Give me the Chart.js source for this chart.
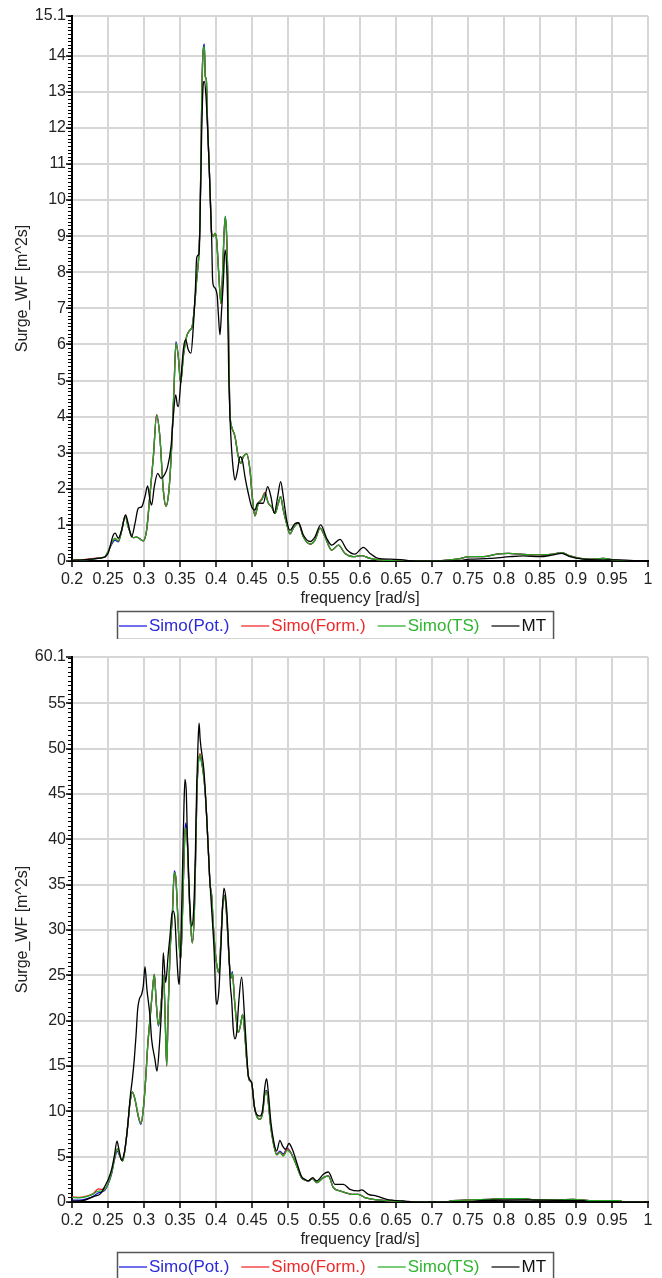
<!DOCTYPE html>
<html>
<head>
<meta charset="utf-8">
<script src="https://cdn.jsdelivr.net/npm/chart.js@4.4.1/dist/chart.umd.min.js"></script>
<style>
  body { margin: 0; background: #fff; width: 662px; height: 1278px; overflow: hidden; position: relative; }
  canvas { position: absolute; left: 0; }
</style>
</head>
<body>
<canvas id="topChart" width="662" height="639" style="top:0"></canvas>
<canvas id="bottomChart" width="662" height="639" style="top:641px"></canvas>
<script>
// axis ticks
var freqTicks = [0.2, 0.25, 0.3, 0.35, 0.4, 0.45, 0.5, 0.55, 0.6, 0.65, 0.7, 0.75, 0.8, 0.85, 0.9, 0.95, 1];
var topYTicks = [0, 1, 2, 3, 4, 5, 6, 7, 8, 9, 10, 11, 12, 13, 14, 15.1];
var bottomYTicks = [0, 5, 10, 15, 20, 25, 30, 35, 40, 45, 50, 55, 60.1];

var seriesNames = ['Simo(Pot.)', 'Simo(Form.)', 'Simo(TS)', 'MT'];
var seriesColors = ['#1010e0', '#ee1c1c', '#20a820', '#000000'];
var legendTextColors = ['#2a2ad8', '#ee2a2a', '#2fb52f', '#111111'];

// top chart: Simo series share one frequency grid
var topSimoFreq = [
  0.200, 0.215, 0.230, 0.240, 0.246, 0.250, 0.255, 0.2597, 0.2643, 0.2690,
  0.2740, 0.2780, 0.2850, 0.2900, 0.2990, 0.3037, 0.3080, 0.3130, 0.3175, 0.3220,
  0.3268, 0.3305, 0.3347, 0.3384, 0.3416, 0.3444, 0.3476, 0.3509, 0.3546, 0.3592,
  0.3638, 0.3670, 0.3708, 0.3731, 0.3763, 0.3778, 0.3792, 0.3805, 0.3824, 0.3838,
  0.3851, 0.3865, 0.3884, 0.3902, 0.3920, 0.3939, 0.3963, 0.3986, 0.4009, 0.4032,
  0.4055, 0.4069, 0.4092, 0.4110, 0.4129, 0.4148, 0.4166, 0.4175, 0.4194, 0.4217,
  0.4263, 0.4310, 0.4342, 0.4379, 0.4425, 0.4472, 0.4504, 0.4541, 0.4588, 0.4634,
  0.4680, 0.4727, 0.4773, 0.4820, 0.4865, 0.4898, 0.4935, 0.4981, 0.5027, 0.5074,
  0.5144, 0.5213, 0.5306, 0.5375, 0.5445, 0.5514, 0.5607, 0.5700, 0.5792, 0.5907,
  0.6023, 0.6139, 0.6278, 0.6417, 0.7000, 0.7134, 0.7343, 0.7528, 0.7713, 0.7898,
  0.8060, 0.8222, 0.8361, 0.8546, 0.8685, 0.8801, 0.8917, 0.9056, 0.9194, 0.9380,
  0.9519, 0.9657, 1.000
];
var topPot = [
  0.02, 0.03, 0.06, 0.09, 0.12, 0.25, 0.46, 0.58, 0.53, 0.84,
  1.25, 0.95, 0.65, 0.66, 0.56, 0.86, 1.78, 2.89, 4.05, 3.45,
  1.97, 1.52, 1.97, 3.17, 4.74, 6.08, 5.67, 4.93, 5.67, 6.22,
  6.40, 6.50, 7.20, 7.79, 8.53, 9.45, 11.30, 13.15, 14.20, 14.32,
  13.43, 13.35, 12.04, 11.12, 10.10, 9.08, 8.99, 9.08, 8.90, 8.16,
  7.42, 7.14, 7.98, 8.99, 9.55, 9.00, 7.60, 6.20, 4.09, 3.72,
  3.45, 2.89, 2.71, 2.89, 2.97, 2.52, 1.78, 1.25, 1.60, 1.69,
  1.87, 1.60, 1.50, 1.32, 1.60, 1.78, 1.41, 1.04, 0.75, 0.91,
  1.06, 0.67, 0.47, 0.58, 0.91, 0.67, 0.30, 0.44, 0.21, 0.12,
  0.15, 0.07, 0.03, 0.01, 0.00, 0.01, 0.05, 0.12, 0.12, 0.19,
  0.21, 0.19, 0.17, 0.17, 0.19, 0.23, 0.14, 0.07, 0.05, 0.07,
  0.03, 0.01, 0.00
];
var topForm = [
  0.02, 0.04, 0.07, 0.09, 0.12, 0.26, 0.49, 0.62, 0.55, 0.85,
  1.26, 0.95, 0.65, 0.66, 0.56, 0.86, 1.78, 2.89, 4.05, 3.45,
  1.97, 1.52, 1.97, 3.17, 4.74, 6.03, 5.67, 4.93, 5.67, 6.22,
  6.40, 6.50, 7.20, 7.79, 8.53, 9.45, 11.30, 13.15, 14.17, 14.22,
  13.43, 13.35, 12.04, 11.12, 10.10, 9.08, 8.99, 9.08, 8.90, 8.16,
  7.42, 7.14, 7.98, 8.99, 9.50, 9.00, 7.60, 6.20, 4.09, 3.72,
  3.45, 2.89, 2.71, 2.89, 2.97, 2.52, 1.78, 1.25, 1.60, 1.72,
  1.90, 1.60, 1.50, 1.32, 1.60, 1.78, 1.41, 1.04, 0.75, 0.91,
  1.06, 0.67, 0.47, 0.58, 0.91, 0.67, 0.30, 0.44, 0.21, 0.12,
  0.15, 0.07, 0.03, 0.01, 0.00, 0.01, 0.05, 0.12, 0.12, 0.19,
  0.21, 0.19, 0.17, 0.17, 0.19, 0.23, 0.14, 0.07, 0.05, 0.07,
  0.03, 0.01, 0.00
];
var topTS = [
  0.02, 0.03, 0.06, 0.09, 0.12, 0.26, 0.49, 0.63, 0.55, 0.85,
  1.25, 0.95, 0.65, 0.66, 0.56, 0.86, 1.78, 2.89, 4.05, 3.45,
  1.97, 1.52, 1.97, 3.17, 4.74, 6.03, 5.67, 4.93, 5.67, 6.22,
  6.40, 6.50, 7.20, 7.79, 8.53, 9.45, 11.30, 13.15, 14.17, 14.26,
  13.43, 13.35, 12.04, 11.12, 10.10, 9.08, 8.99, 9.08, 8.90, 8.16,
  7.42, 7.14, 7.98, 8.99, 9.55, 9.00, 7.60, 6.20, 4.09, 3.72,
  3.45, 2.89, 2.71, 2.89, 2.97, 2.52, 1.78, 1.25, 1.60, 1.69,
  1.87, 1.60, 1.50, 1.32, 1.60, 1.78, 1.41, 1.04, 0.75, 0.91,
  1.06, 0.67, 0.47, 0.58, 0.91, 0.67, 0.30, 0.44, 0.21, 0.12,
  0.15, 0.07, 0.03, 0.01, 0.00, 0.01, 0.05, 0.12, 0.12, 0.19,
  0.21, 0.19, 0.17, 0.17, 0.19, 0.23, 0.14, 0.07, 0.05, 0.07,
  0.03, 0.01, 0.00
];
var topMtFreq = [
  0.200, 0.215, 0.230, 0.240, 0.246, 0.250, 0.2574, 0.2600, 0.2643, 0.2690,
  0.2745, 0.2780, 0.2828, 0.2875, 0.2920, 0.2967, 0.3013, 0.3050, 0.3083, 0.3106,
  0.3143, 0.3190, 0.3236, 0.3282, 0.3328, 0.3375, 0.3407, 0.3440, 0.3463, 0.3476,
  0.3513, 0.3546, 0.3578, 0.3615, 0.3652, 0.3685, 0.3715, 0.3731, 0.3755, 0.3768,
  0.3787, 0.3805, 0.3824, 0.3838, 0.3861, 0.3884, 0.3907, 0.3926, 0.3939, 0.3953,
  0.3972, 0.4000, 0.4018, 0.4032, 0.4055, 0.4078, 0.4101, 0.4125, 0.4148, 0.4162,
  0.4175, 0.4194, 0.4217, 0.4240, 0.4263, 0.4300, 0.4333, 0.4365, 0.4402, 0.4449,
  0.4495, 0.4541, 0.4578, 0.4615, 0.4657, 0.4717, 0.4763, 0.4810, 0.4856, 0.4898,
  0.4935, 0.4981, 0.5027, 0.5097, 0.5144, 0.5213, 0.5306, 0.5375, 0.5454, 0.5537,
  0.5607, 0.5722, 0.5815, 0.5930, 0.6046, 0.6139, 0.6255, 0.6417, 0.6602, 0.6670,
  0.7300, 0.7528, 0.7806, 0.8083, 0.8268, 0.8500, 0.8685, 0.8801, 0.8917, 0.9102,
  0.9287, 0.9565, 0.9930, 1.000
];
var topMT = [
  0.02, 0.03, 0.06, 0.08, 0.12, 0.21, 0.72, 0.77, 0.63, 0.86,
  1.28, 1.04, 0.67, 1.04, 1.46, 1.50, 1.78, 2.08, 1.69, 1.55,
  2.06, 2.43, 2.29, 2.38, 2.61, 3.17, 4.00, 4.60, 4.32, 4.28,
  5.02, 5.85, 6.13, 5.85, 5.76, 6.50, 7.60, 8.39, 8.48, 8.62,
  10.38, 12.23, 13.24, 13.29, 12.87, 11.95, 10.84, 9.73, 9.00, 7.79,
  7.60, 7.51, 7.33, 6.87, 6.27, 6.96, 7.70, 8.62, 8.16, 7.14,
  5.40, 4.00, 3.08, 2.52, 2.24, 2.52, 2.89, 2.80, 2.34, 1.87,
  1.50, 1.41, 1.60, 1.60, 1.60, 2.06, 1.78, 1.32, 1.78, 2.20,
  1.78, 1.14, 0.85, 1.04, 1.06, 0.72, 0.54, 0.67, 1.00, 0.63,
  0.44, 0.60, 0.32, 0.19, 0.38, 0.21, 0.07, 0.05, 0.03, 0.01,
  0.00, 0.05, 0.07, 0.12, 0.14, 0.12, 0.17, 0.21, 0.12, 0.05,
  0.03, 0.03, 0.01, 0.01
];

// bottom chart
var bottomSimoFreq = [
  0.200, 0.210, 0.220, 0.230, 0.2365, 0.2412, 0.2458, 0.2504, 0.2550, 0.2597,
  0.2629, 0.2666, 0.2703, 0.2736, 0.2773, 0.2805, 0.2838, 0.2875, 0.2921, 0.2958,
  0.2990, 0.3023, 0.3051, 0.3083, 0.3115, 0.3143, 0.3170, 0.3200, 0.3225, 0.3250,
  0.3272, 0.3295, 0.3315, 0.3335, 0.3361, 0.3393, 0.3421, 0.3444, 0.3467, 0.3490,
  0.3509, 0.3532, 0.3550, 0.3569, 0.3583, 0.3601, 0.3620, 0.3643, 0.3671, 0.3699,
  0.3717, 0.3736, 0.3755, 0.3778, 0.3801, 0.3824, 0.3847, 0.3870, 0.3893, 0.3916,
  0.3940, 0.3963, 0.3995, 0.4023, 0.4041, 0.4069, 0.4092, 0.4115, 0.4139, 0.4162,
  0.4185, 0.4208, 0.4227, 0.4260, 0.4310, 0.4340, 0.4370, 0.4400, 0.4426, 0.4458,
  0.4495, 0.4532, 0.4565, 0.4611, 0.4648, 0.4680, 0.4703, 0.4727, 0.4759, 0.4796,
  0.4842, 0.4888, 0.4935, 0.4990, 0.5027, 0.5074, 0.5120, 0.5189, 0.5236, 0.5282,
  0.5343, 0.5398, 0.5491, 0.5560, 0.5630, 0.5722, 0.5792, 0.5884, 0.5977, 0.6069,
  0.6185, 0.6324, 0.6463, 0.6648, 0.6800, 0.7200, 0.7250, 0.7528, 0.7806, 0.7991,
  0.8269, 0.8454, 0.8731, 0.8963, 0.9194, 0.9472, 0.9610, 0.9650, 1.000
];
var bottomPot = [
  0.20, 0.20, 0.35, 0.65, 1.00, 1.10, 1.30, 2.00, 3.10, 4.90,
  5.60, 5.00, 4.52, 5.75, 8.30, 10.90, 12.10, 11.30, 9.40, 8.55,
  10.22, 13.52, 17.20, 20.14, 23.08, 25.10, 22.00, 19.40, 20.70, 23.00,
  25.00, 20.00, 15.10, 21.00, 27.49, 31.53, 36.50, 35.57, 31.90, 28.20,
  26.75, 31.16, 36.31, 40.90, 41.80, 40.10, 35.57, 31.16, 28.59, 31.90,
  38.15, 45.50, 48.44, 49.20, 48.44, 47.33, 45.50, 42.56, 38.88, 35.20,
  33.74, 30.43, 27.12, 25.65, 25.28, 28.96, 32.63, 33.80, 32.63, 29.69,
  26.39, 24.70, 25.40, 22.00, 18.70, 19.50, 20.70, 18.50, 15.73, 13.52,
  13.16, 10.58, 9.48, 9.11, 9.85, 12.05, 12.30, 10.95, 8.38, 6.54,
  5.30, 5.60, 5.30, 5.95, 5.60, 4.89, 4.00, 2.68, 2.40, 2.32,
  2.58, 2.14, 2.69, 2.87, 1.58, 1.22, 1.03, 0.85, 0.85, 0.48,
  0.30, 0.19, 0.11, 0.05, 0.00, 0.00, 0.10, 0.22, 0.30, 0.37,
  0.37, 0.22, 0.22, 0.30, 0.15, 0.15, 0.15, 0.00, 0.00
];
var bottomForm = [
  0.55, 0.50, 0.65, 0.95, 1.45, 1.40, 1.45, 2.15, 3.25, 5.07,
  5.85, 5.07, 4.52, 5.81, 8.38, 10.95, 12.13, 11.32, 9.48, 8.67,
  10.22, 13.52, 17.20, 20.14, 23.08, 25.10, 22.00, 19.50, 20.70, 23.00,
  25.00, 20.00, 15.00, 21.00, 27.49, 31.53, 36.31, 35.57, 31.90, 28.20,
  26.75, 31.16, 36.31, 40.72, 41.20, 39.98, 35.57, 31.16, 28.59, 31.90,
  38.15, 45.50, 48.44, 49.45, 48.60, 47.33, 45.50, 42.56, 38.88, 35.20,
  33.74, 30.43, 27.12, 25.65, 25.28, 28.96, 32.63, 33.74, 32.63, 29.69,
  26.39, 24.70, 25.20, 22.00, 18.70, 19.50, 20.70, 18.50, 15.73, 13.52,
  13.16, 10.58, 9.48, 9.11, 9.85, 12.05, 12.20, 10.95, 8.38, 6.54,
  5.20, 5.50, 5.15, 5.85, 5.55, 4.89, 4.00, 2.68, 2.40, 2.32,
  2.58, 2.14, 2.69, 2.87, 1.58, 1.22, 1.03, 0.85, 0.85, 0.48,
  0.30, 0.19, 0.11, 0.05, 0.00, 0.00, 0.10, 0.22, 0.30, 0.37,
  0.37, 0.22, 0.22, 0.30, 0.15, 0.15, 0.15, 0.00, 0.00
];
var bottomTS = [
  0.50, 0.45, 0.60, 0.90, 1.21, 1.21, 1.40, 2.13, 3.23, 5.07,
  5.85, 5.07, 4.52, 5.81, 8.38, 10.95, 12.13, 11.32, 9.48, 8.67,
  10.22, 13.52, 17.20, 20.14, 23.08, 25.10, 22.00, 19.50, 20.70, 23.00,
  25.00, 20.00, 15.00, 21.00, 27.49, 31.53, 36.31, 35.57, 31.90, 28.20,
  26.75, 31.16, 36.31, 40.72, 41.20, 39.98, 35.57, 31.16, 28.59, 31.90,
  38.15, 45.50, 48.44, 49.30, 48.44, 47.33, 45.50, 42.56, 38.88, 35.20,
  33.74, 30.43, 27.12, 25.65, 25.28, 28.96, 32.63, 33.74, 32.63, 29.69,
  26.39, 24.70, 25.20, 22.00, 18.70, 19.50, 20.70, 18.50, 15.73, 13.52,
  13.16, 10.58, 9.48, 9.11, 9.85, 12.05, 12.20, 10.95, 8.38, 6.54,
  5.20, 5.44, 5.07, 5.70, 5.50, 4.89, 4.00, 2.68, 2.40, 2.32,
  2.58, 2.14, 2.69, 2.87, 1.58, 1.22, 1.03, 0.85, 0.85, 0.48,
  0.30, 0.19, 0.11, 0.05, 0.00, 0.00, 0.10, 0.22, 0.30, 0.37,
  0.37, 0.22, 0.22, 0.30, 0.15, 0.15, 0.15, 0.00, 0.00
];
var bottomMtFreq = [
  0.200, 0.215, 0.230, 0.2400, 0.2458, 0.2504, 0.2550, 0.2588, 0.2625, 0.2652,
  0.2689, 0.2726, 0.2759, 0.2782, 0.2810, 0.2838, 0.2865, 0.2889, 0.2912, 0.2935,
  0.2967, 0.2990, 0.3014, 0.3040, 0.3083, 0.3106, 0.3152, 0.3180, 0.3213, 0.3245,
  0.3268, 0.3300, 0.3338, 0.3361, 0.3384, 0.3407, 0.3430, 0.3453, 0.3476, 0.3490,
  0.3513, 0.3532, 0.3555, 0.3569, 0.3588, 0.3601, 0.3620, 0.3638, 0.3662, 0.3690,
  0.3713, 0.3731, 0.3750, 0.3765, 0.3780, 0.3833, 0.3870, 0.3916, 0.3950, 0.3975,
  0.3995, 0.4009, 0.4041, 0.4069, 0.4092, 0.4110, 0.4138, 0.4162, 0.4185, 0.4200,
  0.4217, 0.4240, 0.4263, 0.4287, 0.4319, 0.4356, 0.4393, 0.4426, 0.4449, 0.4495,
  0.4532, 0.4565, 0.4611, 0.4648, 0.4680, 0.4703, 0.4727, 0.4763, 0.4805, 0.4842,
  0.4888, 0.4925, 0.4967, 0.5014, 0.5060, 0.5120, 0.5189, 0.5236, 0.5282, 0.5343,
  0.5398, 0.5491, 0.5560, 0.5653, 0.5769, 0.5861, 0.5977, 0.6023, 0.6116, 0.6231,
  0.6370, 0.6463, 0.6602, 0.6670, 0.6750, 0.7500, 0.7713, 0.8270, 0.8731, 0.9102,
  0.9200, 1.000
];
var bottomMT = [
  0.10, 0.15, 0.60, 0.95, 1.77, 2.50, 3.60, 5.07, 6.70, 5.81,
  4.60, 5.44, 7.28, 9.11, 11.69, 13.52, 15.73, 18.30, 21.24, 22.35,
  22.90, 23.81, 25.95, 23.50, 20.50, 17.93, 15.73, 14.44, 17.20, 21.61,
  27.49, 24.20, 27.49, 29.33, 31.53, 32.08, 31.16, 27.49, 24.55, 24.00,
  28.96, 35.57, 43.66, 46.60, 45.13, 40.72, 36.31, 32.63, 30.43, 32.27,
  38.15, 45.50, 50.50, 52.80, 51.00, 47.50, 42.56, 35.20, 31.00, 27.50,
  23.00, 21.79, 23.45, 28.20, 32.63, 34.60, 33.37, 30.43, 26.39, 23.80,
  22.35, 19.04, 18.00, 18.67, 22.35, 24.80, 20.87, 16.47, 13.89, 13.16,
  10.58, 9.67, 9.48, 10.22, 12.79, 13.60, 12.05, 8.75, 6.54, 5.62,
  6.80, 6.17, 5.81, 6.45, 5.81, 4.40, 2.80, 2.50, 2.32, 2.69,
  2.32, 3.05, 3.31, 1.95, 1.95, 1.40, 1.22, 1.33, 0.85, 0.66,
  0.30, 0.19, 0.11, 0.07, 0.00, 0.00, 0.19, 0.22, 0.19, 0.15,
  0.00, 0.00
];

var FONT = '"Liberation Sans", Arial, Helvetica, sans-serif';
Chart.defaults.font.family = FONT;
Chart.defaults.color = '#222';

function toPoints(xs, ys) {
    var pts = [];
    for (var i = 0; i < xs.length; i++) { pts.push({ x: xs[i], y: ys[i] }); }
    return pts;
}

function fmtTick(v) { return String(+Number(v).toFixed(2)); }

// small ticks left of the y axis between the labelled ones
var minorTickPlugin = {
    id: 'minorTicks',
    afterDraw: function(chart, args, opts) {
        var ys = chart.scales.y, ctx = chart.ctx, x0 = chart.chartArea.left;
        ctx.save();
        ctx.strokeStyle = '#000';
        ctx.lineWidth = 1;
        var n = Math.floor(ys.max / opts.step + 1e-6);
        for (var i = 0; i <= n; i++) {
            var py = Math.round(ys.getPixelForValue(i * opts.step)) + 0.5;
            ctx.beginPath();
            ctx.moveTo(x0 - 4, py);
            ctx.lineTo(x0, py);
            ctx.stroke();
        }
        ctx.restore();
    }
};

// boxed legend under the axis title: line sample then coloured name
var legendBoxPlugin = {
    id: 'legendBox',
    afterDraw: function(chart) {
        var ctx = chart.ctx;
        var area = chart.chartArea;
        ctx.save();
        ctx.font = '17px ' + FONT;
        var lineLen = 28, gap = 2, itemGap = 12, padL = 2, padR = 7;
        var widths = seriesNames.map(function(n) { return ctx.measureText(n).width; });
        var total = padL + padR + itemGap * (seriesNames.length - 1);
        widths.forEach(function(w) { total += lineLen + gap + w; });
        var left = Math.round(chart.width / 2 + 4 - total / 2);
        var top = Math.round(area.bottom + 50);
        var h = 28;
        ctx.strokeStyle = '#555';
        ctx.lineWidth = 1.5;
        ctx.strokeRect(left + 0.5, top + 0.5, total, h);
        var cy = top + h / 2 + 1;
        var x = left + padL;
        ctx.textBaseline = 'middle';
        ctx.textAlign = 'left';
        for (var i = 0; i < seriesNames.length; i++) {
            ctx.strokeStyle = seriesColors[i];
            ctx.lineWidth = 1.2;
            ctx.beginPath();
            ctx.moveTo(x, cy);
            ctx.lineTo(x + lineLen, cy);
            ctx.stroke();
            ctx.fillStyle = legendTextColors[i];
            ctx.fillText(seriesNames[i], x + lineLen + gap, cy);
            x += lineLen + gap + widths[i] + itemGap;
        }
        ctx.restore();
    }
};

function makeChart(canvasId, simoFreq, pot, form, ts, mtFreq, mt, yTicks, minorStep) {
    var series = [pot, form, ts];
    var datasets = [];
    for (var i = 0; i < 3; i++) {
        datasets.push({
            label: seriesNames[i],
            data: toPoints(simoFreq, series[i]),
            borderColor: seriesColors[i],
            order: 3 - i
        });
    }
    datasets.push({ label: seriesNames[3], data: toPoints(mtFreq, mt), borderColor: seriesColors[3], order: 0 });

    return new Chart(document.getElementById(canvasId), {
        type: 'line',
        data: { datasets: datasets },
        options: {
            responsive: false,
            animation: false,
            devicePixelRatio: 1,
            layout: { padding: { top: 16, right: 14, bottom: 31, left: 0 } },
            elements: {
                point: { radius: 0 },
                line: { borderWidth: 1.3, fill: false, cubicInterpolationMode: 'monotone' }
            },
            scales: {
                x: {
                    type: 'linear', min: 0.2, max: 1,
                    afterBuildTicks: function(s) { s.ticks = freqTicks.map(function(v) { return { value: v }; }); },
                    afterFit: function(s) { s.height = 47; },
                    ticks: { callback: fmtTick, font: { size: 16 }, color: '#222', autoSkip: false, maxRotation: 0, padding: 3 },
                    grid: { color: '#d6d6d6', lineWidth: 2, tickLength: 6, tickColor: '#000', tickWidth: 1.5 },
                    border: { color: '#000', width: 2 },
                    title: { display: true, text: 'frequency [rad/s]', font: { size: 16 }, color: '#222', padding: { top: 0, bottom: 0 } }
                },
                y: {
                    type: 'linear', min: 0, max: yTicks[yTicks.length - 1],
                    afterBuildTicks: function(s) { s.ticks = yTicks.map(function(v) { return { value: v }; }); },
                    afterFit: function(s) { s.width = 72; },
                    ticks: { callback: fmtTick, font: { size: 16 }, color: '#222', autoSkip: false, padding: 0 },
                    grid: { color: '#d6d6d6', lineWidth: 2, tickLength: 6, tickColor: '#000', tickWidth: 1.5 },
                    border: { color: '#000', width: 2 },
                    title: { display: true, text: 'Surge_WF [m^2s]', font: { size: 16 }, color: '#222', padding: { top: 13, bottom: 0 } }
                }
            },
            plugins: {
                legend: { display: false },
                tooltip: { enabled: false },
                minorTicks: { step: minorStep }
            }
        },
        plugins: [minorTickPlugin, legendBoxPlugin]
    });
}

makeChart('topChart', topSimoFreq, topPot, topForm, topTS, topMtFreq, topMT, topYTicks, 0.1);
makeChart('bottomChart', bottomSimoFreq, bottomPot, bottomForm, bottomTS, bottomMtFreq, bottomMT, bottomYTicks, 0.5);
</script>
</body>
</html>
